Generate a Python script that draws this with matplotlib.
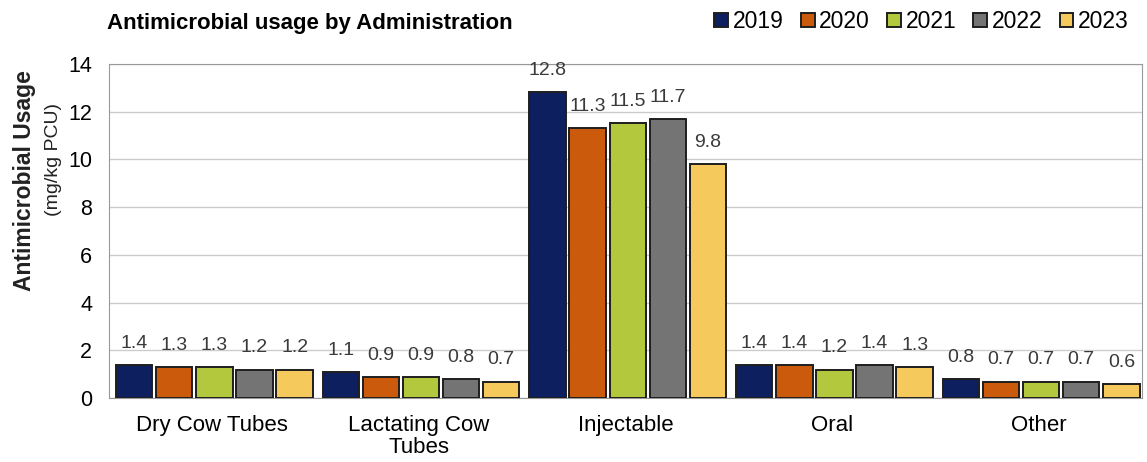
import numpy as np
import matplotlib.pyplot as plt

plt.rcParams['font.family'] = ['Liberation Sans', 'DejaVu Sans']

categories = ['Dry Cow Tubes', 'Lactating Cow\nTubes', 'Injectable', 'Oral', 'Other']
years = ['2019', '2020', '2021', '2022', '2023']
usage = {
    '2019': [1.4, 1.1, 12.8, 1.4, 0.8],
    '2020': [1.3, 0.9, 11.3, 1.4, 0.7],
    '2021': [1.3, 0.9, 11.5, 1.2, 0.7],
    '2022': [1.2, 0.8, 11.7, 1.4, 0.7],
    '2023': [1.2, 0.7, 9.8, 1.3, 0.6],
}
colors = ['#0d1f5e', '#cc5a0c', '#b3c83c', '#747474', '#f6c95c']

fig = plt.figure(figsize=(11.47, 4.62), dpi=100)
ax = fig.add_axes([0.095, 0.138, 0.901, 0.724])

x = np.arange(len(categories))
step = 0.194
for i, (yr, col) in enumerate(zip(years, colors)):
    pos = x + (i - 2) * step + 0.01
    bars = ax.bar(pos, usage[yr], 0.176, color=col, edgecolor='#1e1e1e',
                  linewidth=1.4, label=yr, zorder=3)
    for b, v in zip(bars, usage[yr]):
        ax.text(b.get_x() + b.get_width() / 2, v + 0.55, f'{v:.1f}',
                ha='center', va='bottom', fontsize=14, color='#3a3a3a')

ax.set_xlim(-0.5, len(categories) - 0.5)
ax.set_ylim(0, 14)
ax.set_yticks(range(0, 15, 2))
ax.set_xticks(x)
ax.set_xticklabels(categories, fontsize=16, linespacing=1.05)
ax.tick_params(axis='y', labelsize=15.5, length=0, pad=12)
ax.tick_params(axis='x', length=0, pad=12)
ax.grid(axis='y', color='#cccccc', linewidth=1, zorder=0)
for s in ax.spines.values():
    s.set_color('#999999')

# axis title sits above the vertical centre of the plot
fig.text(0.021, 0.61, 'Antimicrobial Usage', rotation=90,
         ha='center', va='center', fontsize=16.5, fontweight='bold', color='#222222')
fig.text(0.047, 0.655, '(mg/kg PCU)', rotation=90,
         ha='center', va='center', fontsize=14, color='#222222')

fig.text(0.093, 0.95, 'Antimicrobial usage by Administration', fontsize=16,
         fontweight='bold', ha='left', va='center')

leg = fig.legend(loc='center right', bbox_to_anchor=(0.992, 0.953), ncol=5,
                 frameon=False, fontsize=16.5, handlelength=0.6, handleheight=0.6,
                 handletextpad=0.2, columnspacing=0.75, borderaxespad=0)

fig.savefig('out.png', dpi=100)
